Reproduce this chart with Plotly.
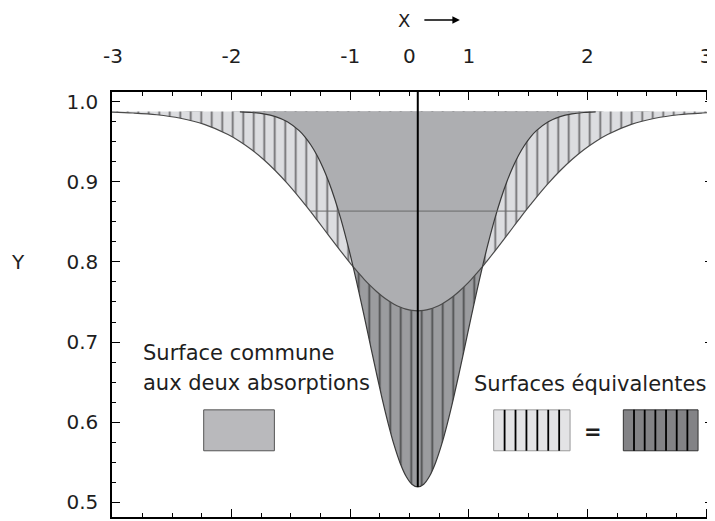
import numpy as np
import plotly.graph_objects as go

# ---------------- data ----------------
x = [-2.53, -2.33, -2.13, -1.93, -1.73, -1.53, -1.43, -1.33, -1.23, -1.13, -1.03, -0.93,
     -0.88, -0.83, -0.78, -0.73, -0.68, -0.63, -0.58, -0.53, -0.51, -0.49, -0.47, -0.45,
     -0.43, -0.38, -0.33, -0.28, -0.23, -0.18, -0.13, -0.08, -0.03, 0.02,
     0.07,
     0.12, 0.17, 0.22, 0.27, 0.32, 0.37, 0.42, 0.47, 0.52, 0.57, 0.59, 0.61, 0.63, 0.65,
     0.67, 0.72, 0.77, 0.82, 0.87, 0.92, 0.97, 1.02, 1.07, 1.17, 1.27, 1.37, 1.47, 1.57,
     1.67, 1.87, 2.07, 2.27, 2.47, 2.67]

wide = [0.9872, 0.9860, 0.9838, 0.9794, 0.9717, 0.9591, 0.9505, 0.9401, 0.9279, 0.9139, 0.8981, 0.8807,
        0.8715, 0.8621, 0.8524, 0.8427, 0.8329, 0.8231, 0.8135, 0.8041, 0.8004, 0.7967, 0.7932, 0.7897,
        0.7863, 0.7780, 0.7704, 0.7634, 0.7572, 0.7518, 0.7472, 0.7437, 0.7411, 0.7395,
        0.7390,
        0.7395, 0.7411, 0.7437, 0.7472, 0.7518, 0.7572, 0.7634, 0.7704, 0.7780, 0.7863, 0.7897, 0.7932,
        0.7967, 0.8004, 0.8041, 0.8135, 0.8231, 0.8329, 0.8427, 0.8524, 0.8621, 0.8715, 0.8807, 0.8981,
        0.9139, 0.9279, 0.9401, 0.9505, 0.9591, 0.9717, 0.9794, 0.9838, 0.9860, 0.9872]

narrow = [0.9880, 0.9880, 0.9880, 0.9880, 0.9880, 0.9878, 0.9874, 0.9866, 0.9849, 0.9815, 0.9751, 0.9639,
          0.9559, 0.9457, 0.9332, 0.9179, 0.8998, 0.8786, 0.8543, 0.8270, 0.8154, 0.8033, 0.7908, 0.7780,
          0.7649, 0.7310, 0.6964, 0.6621, 0.6290, 0.5985, 0.5715, 0.5493, 0.5327, 0.5225,
          0.5190,
          0.5225, 0.5327, 0.5493, 0.5715, 0.5985, 0.6290, 0.6621, 0.6964, 0.7310, 0.7649, 0.7780, 0.7908,
          0.8033, 0.8154, 0.8270, 0.8543, 0.8786, 0.8998, 0.9179, 0.9332, 0.9457, 0.9559, 0.9639, 0.9751,
          0.9815, 0.9849, 0.9866, 0.9874, 0.9878, 0.9880, 0.9880, 0.9880, 0.9880, 0.9880]

continuum = 0.988

x_label_pos = [-2.5, -1.5, -0.5, 0.0, 0.5, 1.5, 2.5]
x_label_text = ['-3', '-2', '-1', '0', '1', '2', '3']
x_major_ticks = [-2.5, -1.5, -0.5, 0.5, 1.5, 2.5]
y_ticks = [0.5, 0.6, 0.7, 0.8, 0.9, 1.0]
y_tick_text = ['0.5', '0.6', '0.7', '0.8', '0.9', '1.0']

# ---------------- style ----------------
X_RANGE = [-2.508, 2.559]
Y_RANGE = [0.4815, 1.0122]
LIGHT = '#dcdde0'
DARK = '#9b9c9f'
GRAY = '#adaeb1'
FONT = 'DejaVu Sans, Verdana, sans-serif'
TXT = '#1e1e1e'

xa = np.array(x)
wa = np.array(wide)
na = np.array(narrow)
base = np.full_like(xa, continuum)
common = np.maximum(wa, na)

fig = go.Figure()


def baseline_trace():
    return go.Scatter(x=xa, y=base, mode='lines', line=dict(width=0, color='rgba(0,0,0,0)'),
                      hoverinfo='skip', showlegend=False)


# light hatched: continuum -> wide curve
fig.add_trace(baseline_trace())
fig.add_trace(go.Scatter(x=xa, y=wa, mode='lines', line=dict(width=0, shape='spline', color='rgba(0,0,0,0)'),
                         fill='tonexty', fillcolor=LIGHT,
                         fillpattern=dict(shape='|', size=10.5, solidity=0.17, fgcolor='black', bgcolor=LIGHT),
                         hoverinfo='skip', showlegend=False))
# dark hatched: continuum -> narrow curve
fig.add_trace(baseline_trace())
fig.add_trace(go.Scatter(x=xa, y=na, mode='lines', line=dict(width=0, shape='spline', color='rgba(0,0,0,0)'),
                         fill='tonexty', fillcolor=DARK,
                         fillpattern=dict(shape='|', size=10.5, solidity=0.17, fgcolor='black', bgcolor=DARK),
                         hoverinfo='skip', showlegend=False))
# common surface: continuum -> max(narrow, wide)
fig.add_trace(baseline_trace())
fig.add_trace(go.Scatter(x=xa, y=common, mode='lines', line=dict(width=0, shape='spline', color='rgba(0,0,0,0)'),
                         fill='tonexty', fillcolor=GRAY, hoverinfo='skip', showlegend=False))

# curve outlines
fig.add_trace(go.Scatter(x=xa, y=wa, mode='lines', line=dict(width=1.2, color='#4a4a4a', shape='spline'),
                         hoverinfo='skip', showlegend=False))
na_line = np.where(na < continuum - 0.0005, na, np.nan)
fig.add_trace(go.Scatter(x=xa, y=na_line, mode='lines', line=dict(width=1.2, color='#3a3a3a', shape='spline'),
                         connectgaps=False, hoverinfo='skip', showlegend=False))

# half-depth line of the wide absorption
half = (continuum + wa.min()) / 2
ic = int(np.argmin(wa))
x_left = np.interp(half, wa[:ic + 1][::-1], xa[:ic + 1][::-1])
x_right = np.interp(half, wa[ic:], xa[ic:])
fig.add_trace(go.Scatter(x=[x_left, x_right], y=[half, half], mode='lines',
                         line=dict(width=1, color='#6a6a6a'), hoverinfo='skip', showlegend=False))

# centre line
inc = int(np.argmin(na))
fig.add_trace(go.Scatter(x=[xa[inc], xa[inc]], y=[Y_RANGE[1], na[inc]], mode='lines', xaxis='x2',
                         line=dict(width=2, color='black'), hoverinfo='skip', showlegend=False))

# ---------------- legend-like swatches ----------------
shapes = []
box_y = (0.5642, 0.6153)
boxes = [(-1.735, -1.139, '#b9b9bc', '#555555', False),
         (0.710, 1.354, '#e3e3e5', '#9a9a9a', True),
         (1.803, 2.433, '#838386', '#333333', True)]
for x0, x1, fc, lc, hatched in boxes:
    shapes.append(dict(type='rect', xref='x', yref='y', x0=x0, x1=x1, y0=box_y[0], y1=box_y[1],
                       fillcolor=fc, line=dict(color=lc, width=1)))
    if hatched:
        for k in range(1, 7):
            xx = x0 + (x1 - x0) * k / 7
            shapes.append(dict(type='line', xref='x', yref='y', x0=xx, x1=xx, y0=box_y[0], y1=box_y[1],
                               line=dict(color='black', width=1.8)))

annotations = [
    dict(text='Surface commune', x=-2.26, y=0.6865, xref='x', yref='y', xanchor='left', yanchor='middle',
         showarrow=False, font=dict(size=21, color=TXT)),
    dict(text='aux deux absorptions', x=-2.26, y=0.649, xref='x', yref='y', xanchor='left', yanchor='middle',
         showarrow=False, font=dict(size=21, color=TXT)),
    dict(text='Surfaces équivalentes', x=2.52, y=0.648, xref='x', yref='y', xanchor='right', yanchor='middle',
         showarrow=False, font=dict(size=21, color=TXT)),
    dict(text='<b>=</b>', x=1.547, y=0.588, xref='x', yref='y', xanchor='center', yanchor='middle',
         showarrow=False, font=dict(size=21, color=TXT)),
    dict(text='X', x=0.486, y=1.1694, xref='paper', yref='paper', xanchor='center', yanchor='middle',
         showarrow=False, font=dict(size=18, color=TXT)),
    dict(text='', x=0.5788, y=1.1694, xref='paper', yref='paper', showarrow=True, ax=-37, ay=0,
         axref='pixel', ayref='pixel', arrowhead=2, arrowsize=1, arrowwidth=1.5, arrowcolor='black'),
    dict(text='Y', x=-0.156, y=0.6, xref='paper', yref='paper', xanchor='center', yanchor='middle',
         showarrow=False, font=dict(size=20, color=TXT)),
]

# the page body adds an 8 px offset, so the figure is 8 px smaller than the window
fig.update_layout(
    width=707, height=513,
    margin=dict(l=104, r=0, t=84, b=4),
    paper_bgcolor='white', plot_bgcolor='white',
    font=dict(family=FONT, size=20, color=TXT),
    showlegend=False,
    xaxis=dict(range=X_RANGE, side='bottom', showline=True, linecolor='black', linewidth=1.5,
               mirror='ticks', ticks='inside', tickvals=x_major_ticks, ticklen=8, tickwidth=1.2,
               tickcolor='black', showticklabels=False, showgrid=False, zeroline=False,
               minor=dict(dtick=0.25, tick0=-2.5, ticks='inside', ticklen=4, tickwidth=1,
                          tickcolor='black', showgrid=False)),
    xaxis2=dict(range=X_RANGE, overlaying='x', side='top', showline=False, ticks='',
                tickvals=x_label_pos, ticktext=x_label_text, showgrid=False, zeroline=False,
                ticklabelstandoff=24, tickfont=dict(size=20, color=TXT)),
    yaxis=dict(range=Y_RANGE, showline=True, linecolor='black', linewidth=1.5, mirror='ticks',
               ticks='inside', tickvals=y_ticks, ticktext=y_tick_text, ticklen=8, tickwidth=1.2,
               tickcolor='black', showgrid=False, zeroline=False, ticklabelstandoff=8,
               tickfont=dict(size=20, color=TXT),
               minor=dict(dtick=0.025, tick0=0.5, ticks='inside', ticklen=4, tickwidth=1,
                          tickcolor='black', showgrid=False)),
    shapes=shapes,
    annotations=annotations,
)

fig.write_html('out.html')
